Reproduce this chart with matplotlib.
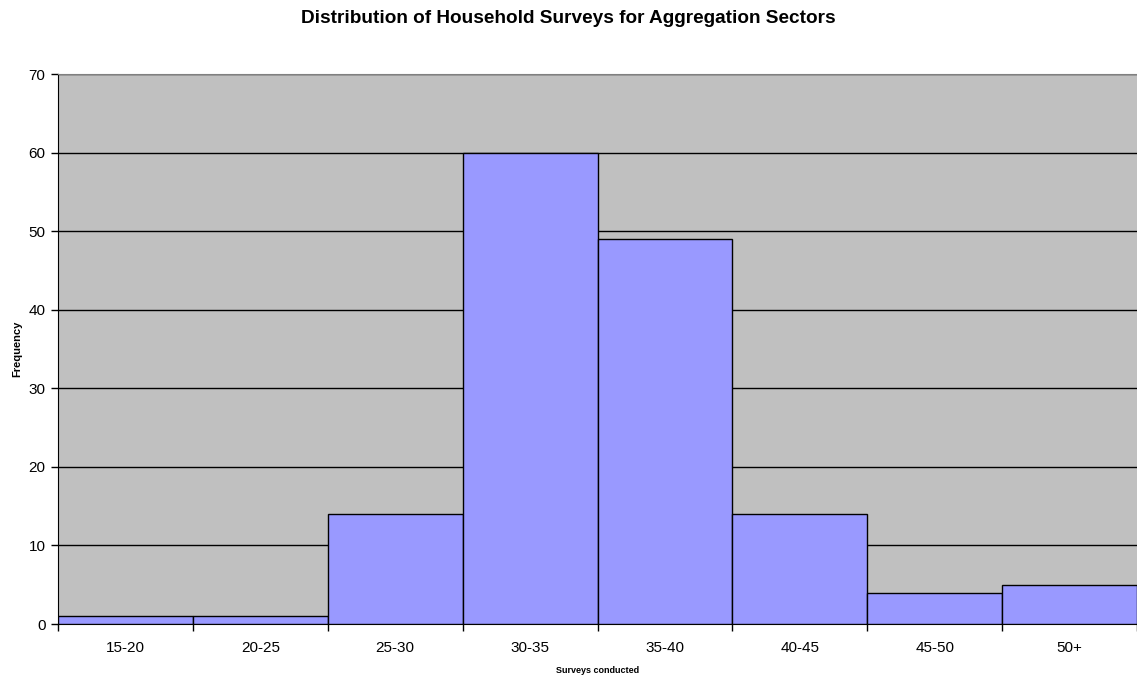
import matplotlib
matplotlib.use("Agg")
import matplotlib.pyplot as plt
import numpy as np

categories = ["15-20", "20-25", "25-30", "30-35", "35-40", "40-45", "45-50", "50+"]
frequency = [1, 1, 14, 60, 49, 14, 4, 5]
y_ticks = [0, 10, 20, 30, 40, 50, 60, 70]

plt.rcParams["font.family"] = ["Liberation Sans", "DejaVu Sans"]

fig = plt.figure(figsize=(11.37, 6.8), dpi=100)
ax = fig.add_axes([58 / 1137, 56 / 680, 1 - 58 / 1137, (624 - 74) / 680])
ax.set_facecolor("#C0C0C0")

x = np.arange(len(categories))
ax.bar(x + 0.5, frequency, width=1.0, color="#9999FF", edgecolor="black",
       linewidth=1.0, zorder=3)

ax.set_xlim(0, len(categories))
ax.set_ylim(0, 70)
ax.set_yticks(y_ticks)
ax.set_yticklabels([str(v) for v in y_ticks], fontsize=11)
ax.yaxis.grid(True, color="black", linewidth=1.0, zorder=1)
ax.set_axisbelow(True)

ax.set_xticks(np.arange(len(categories) + 1))
ax.set_xticklabels([])
ax.set_xticks(x + 0.5, minor=True)
ax.set_xticklabels(categories, minor=True, fontsize=11)
ax.tick_params(axis="x", which="minor", length=0, pad=12)
ax.tick_params(axis="x", which="major", length=5, width=1, color="black")
ax.tick_params(axis="y", length=5, width=1, color="black", pad=4)

ax.spines["right"].set_visible(False)
ax.spines["top"].set_color("#808080")
ax.spines["left"].set_color("black")
ax.spines["bottom"].set_color("black")

ax.set_xlabel("Surveys conducted", fontsize=6.5, fontweight="bold", labelpad=8)
ax.set_ylabel("Frequency", fontsize=8, fontweight="bold", labelpad=4.8)
fig.suptitle("Distribution of Household Surveys for Aggregation Sectors",
             fontsize=13.7, fontweight="bold", y=1 - 18.5 / 680, va="center")

fig.savefig("out.png", dpi=100, facecolor="white")
